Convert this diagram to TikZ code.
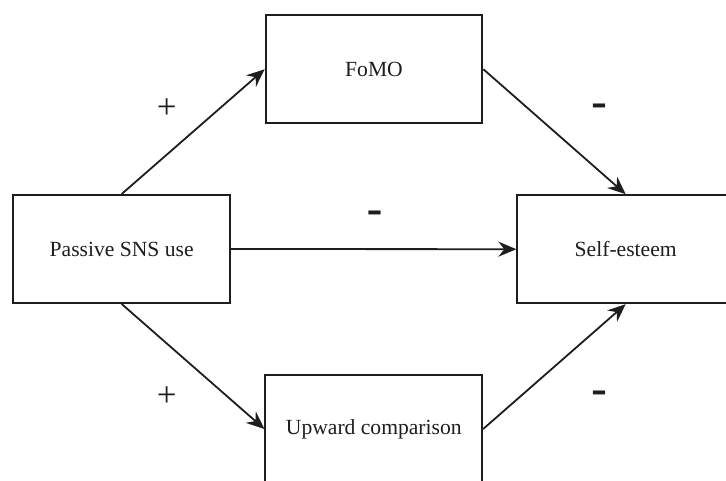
\documentclass[tikz,border=0pt]{standalone}
\usepackage{fontspec}
\setmainfont{Liberation Serif}
\newfontfamily\dashfont{Liberation Sans}
\usetikzlibrary{arrows.meta}
\definecolor{ink}{HTML}{1E1E1E}
\begin{document}
\begin{tikzpicture}[x=1pt,y=-1pt,
  box/.style={draw=ink, line width=2pt, minimum width=216.7pt, minimum height=108pt, inner sep=0pt,
    text=ink, font=\fontsize{21.6}{26}\selectfont},
  conn/.style={draw=ink, line width=1.8pt, -{Stealth[length=18pt,width=15pt,inset=6pt]}},
  plussign/.style={text=ink, inner sep=0pt, font=\fontsize{35}{40}\selectfont},
  minussign/.style={text=ink, inner sep=0pt, font=\dashfont\bfseries\fontsize{30}{36}\selectfont}
]
\clip (0,0) rectangle (726,480);
\useasboundingbox (0,0) rectangle (726,480);
\fill[white] (0,0) rectangle (726,480);

\node[box] (F) at (374,69.2) {FoMO};
\node[box] (P) at (121.7,249) {Passive SNS use};
\node[box] (S) at (625.7,249.2) {Self-esteem};
\node[box] (U) at (373.8,429) {Upward comparison};

\draw[conn] (P.north) -- (F.west);
\draw[conn] (P.east) -- (S.west);
\draw[conn] (P.south) -- (U.west);
\draw[conn] (F.east) -- (S.north);
\draw[conn] (U.east) -- (S.south);

\node[plussign] (p1) at (166.7,108.3) {+};
\node[plussign] (p2) at (166.7,396.7) {+};
\node[minussign] (m1) at (599,109.5) {\scalebox{1.6}[1.1]{-}};
\node[minussign] (m2) at (374.7,216.7) {\scalebox{1.6}[1.1]{-}};
\node[minussign] (m3) at (599,396.7) {\scalebox{1.6}[1.1]{-}};
\end{tikzpicture}
\end{document}
